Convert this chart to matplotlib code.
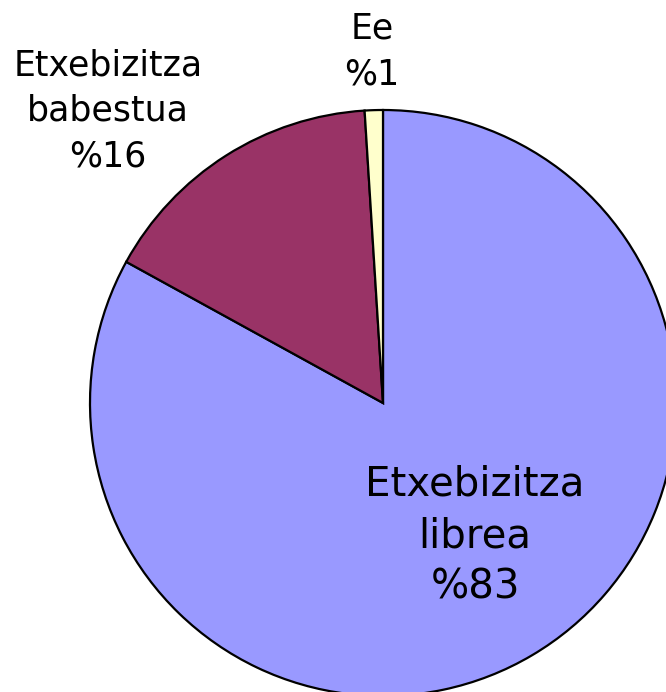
import matplotlib
matplotlib.use("Agg")
import matplotlib.pyplot as plt

# DATA
labels = ["Etxebizitza\nlibrea", "Etxebizitza\nbabestua", "Ee"]
values = [83, 16, 1]
colors = ["#9999FF", "#993366", "#FFFFCC"]

# label placement, in pie radius units
label_pos = [(0.314, -0.454), (-0.939, 0.997), (-0.038, 1.200)]
label_size = [29, 25, 25]
label_spacing = [1.37, 1.42, 1.42]

W, H = 666, 692
cx, cy, r = 383, 403, 293  # pie centre and radius in pixels

fig = plt.figure(figsize=(W / 100, H / 100), dpi=100)
ax = fig.add_axes([0, 0, 1, 1])

ax.pie(values, colors=colors, startangle=90, counterclock=False,
       wedgeprops=dict(edgecolor="black", linewidth=1.6))

for lab, val, (x, y), fs, ls in zip(labels, values, label_pos, label_size, label_spacing):
    ax.text(x, y, "%s\n%%%d" % (lab, val), ha="center", va="center",
            fontsize=fs, linespacing=ls, color="black")

ax.set_xlim(-cx / r, (W - cx) / r)
ax.set_ylim(-(H - cy) / r, cy / r)
ax.set_aspect("equal")
ax.axis("off")

fig.savefig("out.png", dpi=100)
